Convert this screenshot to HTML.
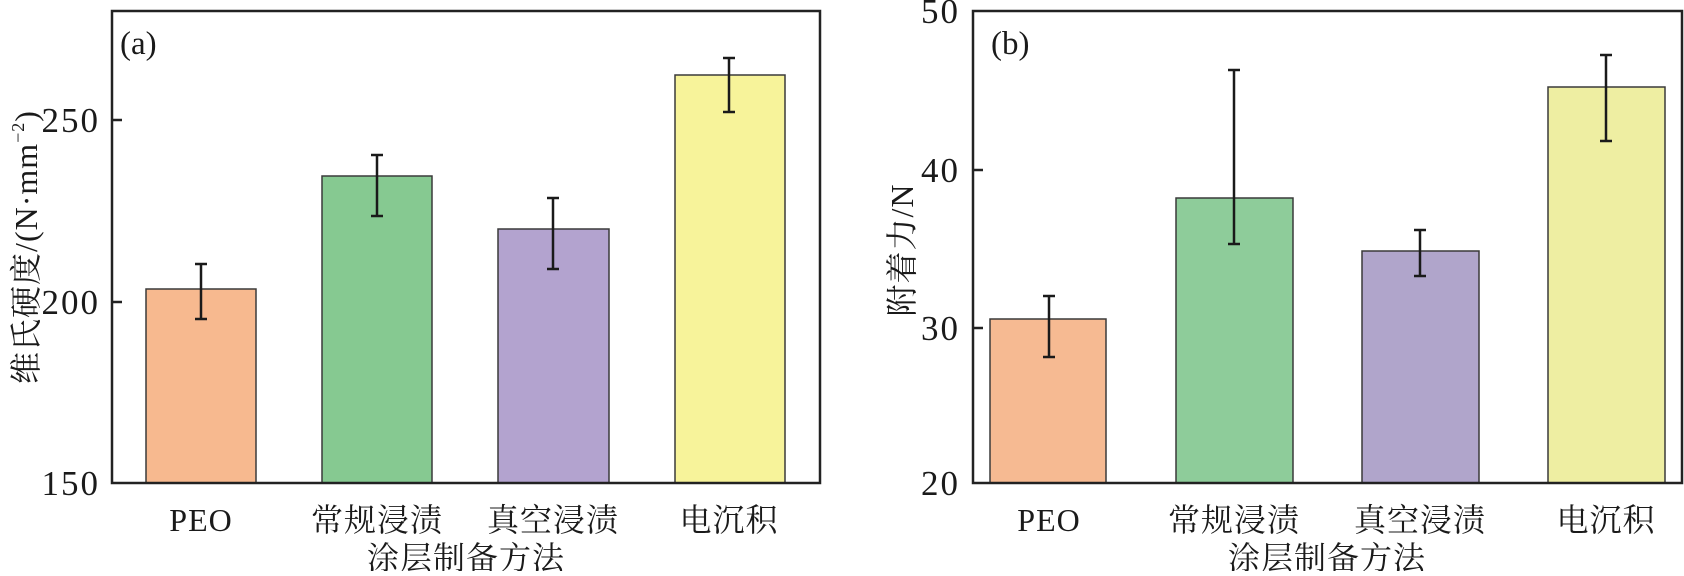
<!DOCTYPE html>
<html><head><meta charset="utf-8"><style>
body{margin:0;background:#fff}
text{font-family:"Liberation Serif","Noto Serif CJK SC",serif;fill:#1a1a1a}
.t{font-size:35px;letter-spacing:2px}
.c{font-family:"Liberation Serif","Noto Serif CJK SC",serif;font-size:32px;letter-spacing:1px}
</style></head><body>
<svg width="1684" height="571" viewBox="0 0 1684 571" xmlns="http://www.w3.org/2000/svg">
<g stroke="#3a3a3a" stroke-width="1.5">
<rect x="146" y="289" width="110" height="194" fill="#f7b98f"/>
<rect x="322" y="176" width="110" height="307" fill="#86c991"/>
<rect x="498" y="229" width="111" height="254" fill="#b3a3cf"/>
<rect x="675" y="75" width="110" height="408" fill="#f7f39a"/>
<rect x="990" y="319" width="116" height="164" fill="#f6ba92"/>
<rect x="1176" y="198" width="117" height="285" fill="#8ecc9a"/>
<rect x="1362" y="251" width="117" height="232" fill="#b0a5cb"/>
<rect x="1548" y="87" width="117" height="396" fill="#eeeea2"/>
</g>
<g stroke="#1a1a1a" stroke-width="2.5" fill="none">
<path d="M201 264V319M195 264H207M195 319H207"/>
<path d="M377 155V216M371 155H383M371 216H383"/>
<path d="M553 198V269M547 198H559M547 269H559"/>
<path d="M729 58V112M723 58H735M723 112H735"/>
<path d="M1049 296V357M1043 296H1055M1043 357H1055"/>
<path d="M1234 70V244M1228 70H1240M1228 244H1240"/>
<path d="M1420 230V276M1414 230H1426M1414 276H1426"/>
<path d="M1606 55V141M1600 55H1612M1600 141H1612"/>
</g>
<g stroke="#222" fill="none">
<rect x="112" y="11" width="708" height="472" stroke-width="2.5"/>
<path d="M112 120H122M112 302H122" stroke-width="2.5"/>
<rect x="973" y="11" width="709" height="472" stroke-width="2.5"/>
<path d="M973 170H983M973 328H983" stroke-width="2.5"/>
</g>
<g class="t" text-anchor="end">
<text x="100" y="132">250</text>
<text x="100" y="314">200</text>
<text x="100" y="495">150</text>
<text x="960" y="23">50</text>
<text x="960" y="182">40</text>
<text x="960" y="340">30</text>
<text x="960" y="495">20</text>
</g>
<text x="120" y="54" style="font-size:33px">(a)</text>
<text x="991" y="54" style="font-size:33px">(b)</text>
<g class="c" text-anchor="middle">
<text x="201" y="531">PEO</text>
<text x="377" y="531">常规浸渍</text>
<text x="553" y="531">真空浸渍</text>
<text x="729" y="531">电沉积</text>
<text x="466" y="569">涂层制备方法</text>
<text x="1049" y="531">PEO</text>
<text x="1234" y="531">常规浸渍</text>
<text x="1420" y="531">真空浸渍</text>
<text x="1606" y="531">电沉积</text>
<text x="1327" y="569">涂层制备方法</text>
<text transform="translate(37,247) rotate(-90)">维氏硬度/(N·mm<tspan font-size="18" dy="-13">−2</tspan><tspan dy="13">)</tspan></text>
<text transform="translate(913,250) rotate(-90)">附着力/N</text>
</g>
</svg>
</body></html>
